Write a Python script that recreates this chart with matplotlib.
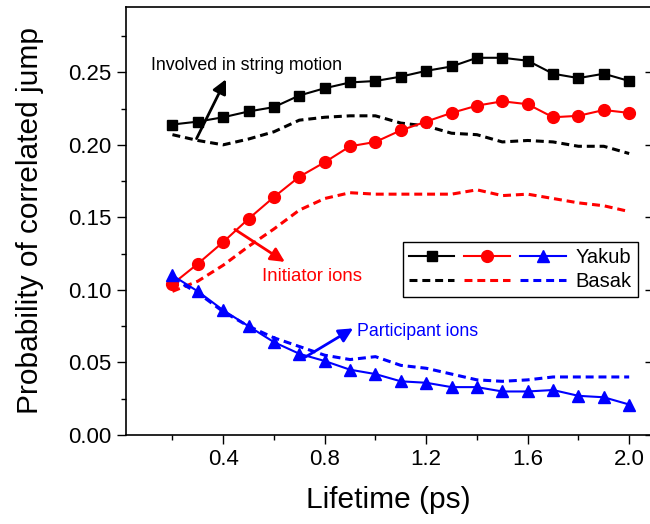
import numpy as np
import matplotlib
matplotlib.use('Agg')
from matplotlib import pyplot as plt
from matplotlib.legend_handler import HandlerTuple
from matplotlib.ticker import MultipleLocator, FixedLocator

plt.rcParams['font.family'] = ['Liberation Sans', 'DejaVu Sans']

# lifetime (ps)
lifetime = [0.2, 0.3, 0.4, 0.5, 0.6, 0.7, 0.8, 0.9, 1.0, 1.1,
            1.2, 1.3, 1.4, 1.5, 1.6, 1.7, 1.8, 1.9, 2.0]

# Yakub (lines with markers)
yakub_string = [0.214, 0.216, 0.219, 0.223, 0.226, 0.234, 0.239, 0.243, 0.244, 0.247,
                0.251, 0.254, 0.260, 0.260, 0.258, 0.249, 0.246, 0.249, 0.244]
yakub_initiator = [0.104, 0.118, 0.133, 0.149, 0.164, 0.178, 0.188, 0.199, 0.202, 0.210,
                   0.216, 0.222, 0.227, 0.230, 0.228, 0.219, 0.220, 0.224, 0.222]
yakub_participant = [0.110, 0.099, 0.086, 0.075, 0.064, 0.056, 0.051, 0.045, 0.042, 0.037,
                     0.036, 0.033, 0.033, 0.030, 0.030, 0.031, 0.027, 0.026, 0.021]

# Basak (dashed lines)
basak_string = [0.207, 0.203, 0.200, 0.204, 0.209, 0.217, 0.219, 0.220, 0.220, 0.215,
                0.213, 0.208, 0.207, 0.202, 0.203, 0.202, 0.199, 0.199, 0.194]
basak_initiator = [0.099, 0.106, 0.117, 0.130, 0.142, 0.155, 0.163, 0.167, 0.166, 0.166,
                   0.166, 0.166, 0.169, 0.165, 0.166, 0.163, 0.160, 0.158, 0.154]
basak_participant = [0.108, 0.098, 0.085, 0.075, 0.067, 0.061, 0.055, 0.052, 0.054, 0.048,
                     0.046, 0.042, 0.038, 0.037, 0.038, 0.040, 0.040, 0.040, 0.040]

fig = plt.figure(figsize=(6.5, 5.24), dpi=100)
ax = fig.add_axes([126 / 650, 89 / 524, 525 / 650, 428 / 524])

dash = (0, (2.6, 1.6))
b1, = ax.plot(lifetime, basak_string, color='black', lw=2.2, ls=dash)
b2, = ax.plot(lifetime, basak_initiator, color='red', lw=2.2, ls=dash)
b3, = ax.plot(lifetime, basak_participant, color='blue', lw=2.2, ls=dash)
y1, = ax.plot(lifetime, yakub_string, color='black', lw=1.5, marker='s', ms=7.5)
y2, = ax.plot(lifetime, yakub_initiator, color='red', lw=1.5, marker='o', ms=8.5)
y3, = ax.plot(lifetime, yakub_participant, color='blue', lw=1.5, marker='^', ms=8.5)

ax.set_xlim(0.017, 2.086)
ax.set_ylim(0, 0.295)

ax.xaxis.set_major_locator(FixedLocator([0.4, 0.8, 1.2, 1.6, 2.0]))
ax.xaxis.set_minor_locator(FixedLocator([0.2, 0.6, 1.0, 1.4, 1.8]))
ax.yaxis.set_major_locator(MultipleLocator(0.05))
ax.yaxis.set_minor_locator(MultipleLocator(0.025))
ax.xaxis.set_major_formatter(matplotlib.ticker.FormatStrFormatter('%.1f'))
ax.yaxis.set_major_formatter(matplotlib.ticker.FormatStrFormatter('%.2f'))

ax.tick_params(axis='both', which='major', direction='out', length=6.5, width=1,
               labelsize=16, pad=4)
ax.tick_params(axis='both', which='minor', direction='out', length=3.5, width=1)
ax.tick_params(axis='x', which='major', pad=3.5)
ax.tick_params(axis='y', which='major', right=True, labelright=False)
for t in ax.yaxis.get_major_ticks():
    t.tick2line.set_marker(matplotlib.lines.TICKLEFT)
    t.tick2line.set_markersize(4)
for s in ax.spines.values():
    s.set_linewidth(1.2)

ax.set_xlabel('Lifetime (ps)', fontsize=21.5)
ax.set_ylabel('Probability of correlated jump', fontsize=21.5)
ax.xaxis.set_label_coords(0.5, -0.118)
ax.yaxis.set_label_coords(-0.157, 0.5)

# annotations
arrow = dict(arrowstyle='-|>', lw=2, mutation_scale=21, shrinkA=0, shrinkB=0)
ax.annotate('', xy=(0.411, 0.2452), xytext=(0.295, 0.2043),
            arrowprops=dict(arrow, color='black'))
ax.text(0.115, 0.2548, 'Involved in string motion', fontsize=12.8, color='black',
        va='center', ha='left')
ax.annotate('', xy=(0.643, 0.1193), xytext=(0.446, 0.1417),
            arrowprops=dict(arrow, color='red'))
ax.text(0.551, 0.109, 'Initiator ions', fontsize=13.4, color='red',
        va='center', ha='left')
ax.annotate('', xy=(0.912, 0.0735), xytext=(0.715, 0.0528),
            arrowprops=dict(arrow, color='blue'))
ax.text(0.926, 0.0711, 'Participant ions', fontsize=12.8, color='blue',
        va='center', ha='left')

leg = ax.legend([(y1, y2, y3), (b1, b2, b3)], ['Yakub', 'Basak'],
                handler_map={tuple: HandlerTuple(ndivide=None, pad=0.5)},
                handlelength=7.8, handletextpad=0.5, fontsize=14.5,
                loc='upper right', bbox_to_anchor=(638 / 650, (524 - 242) / 524),
                bbox_transform=fig.transFigure, borderaxespad=0,
                fancybox=False, edgecolor='black', framealpha=1,
                borderpad=0.3, labelspacing=0.25)
leg.get_frame().set_linewidth(1)

fig.savefig('out.png', dpi=100)
